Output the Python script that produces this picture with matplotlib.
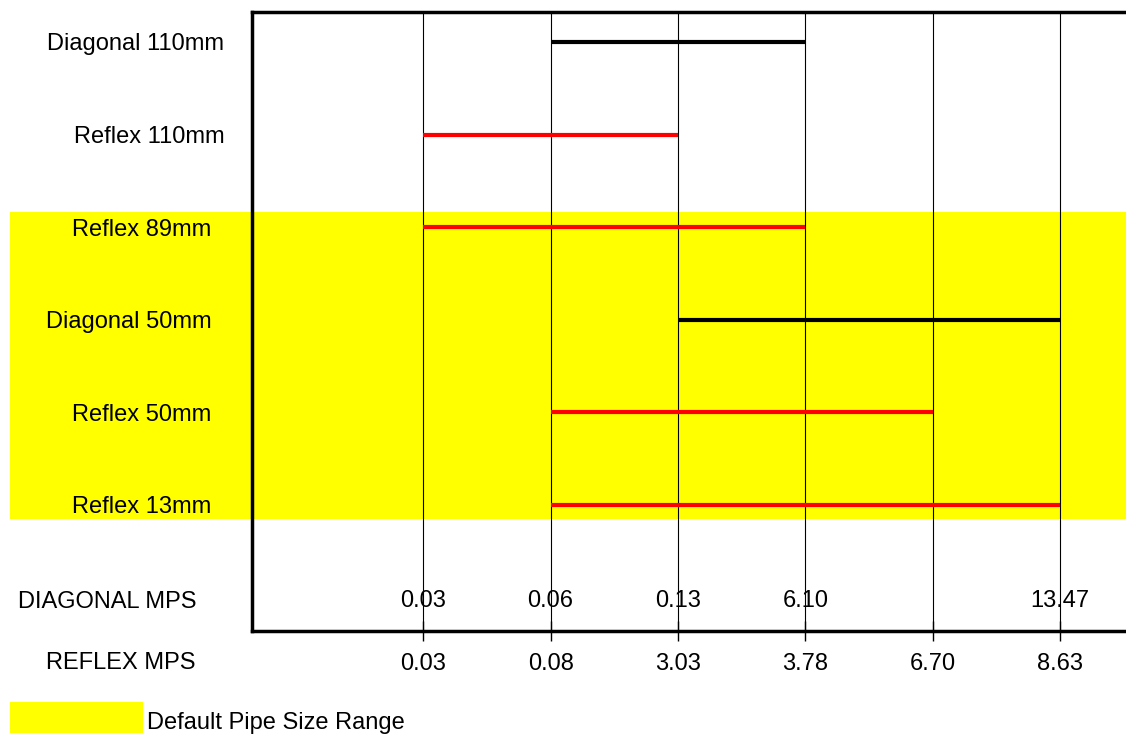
import matplotlib
matplotlib.use("Agg")
import matplotlib.pyplot as plt
from matplotlib.patches import Rectangle
from matplotlib import transforms

plt.rcParams['font.family'] = ['Liberation Sans', 'DejaVu Sans']

# ---------------- data ----------------
reflex_mps = [0.03, 0.08, 3.03, 3.78, 6.70, 8.63]
diagonal_mps = [0.03, 0.06, 0.13, 6.10, None, 13.47]

pipes = ["Diagonal 110mm", "Reflex 110mm", "Reflex 89mm",
         "Diagonal 50mm", "Reflex 50mm", "Reflex 13mm"]
range_min = [0.06, 0.03, 0.03, 0.13, 0.08, 0.08]
range_max = [6.10, 3.03, 3.78, 13.47, 6.70, 8.63]
default_pipes = ["Reflex 89mm", "Diagonal 50mm", "Reflex 50mm", "Reflex 13mm"]

# ---------------- figure ----------------
W, H = 1126, 736
fig = plt.figure(figsize=(W / 100, H / 100), dpi=100)
ax = fig.add_axes([252 / W, 1 - 631 / H, (1150 - 252) / W, (631 - 12) / H])

ticks = list(range(len(reflex_mps)))
ax.set_xlim(-1.344, 5.705)
ax.set_ylim(6.358, -0.322)

# default pipe size band
rows_default = [pipes.index(p) for p in default_pipes]
pad = 0.16
band_tr = transforms.blended_transform_factory(fig.transFigure, ax.transData)
ax.add_patch(Rectangle((10 / W, min(rows_default) - pad), 1.0,
                       max(rows_default) - min(rows_default) + 2 * pad - 0.01,
                       transform=band_tr, facecolor='#ffff00', edgecolor='none',
                       clip_on=False, zorder=0.5))

# vertical gridlines
ax.set_xticks(ticks)
ax.set_xticklabels([f"{v:.2f}" for v in reflex_mps], fontsize=17)
ax.grid(axis='x', color='black', linewidth=0.8)
ax.grid(axis='y', visible=False)
ax.tick_params(axis='x', direction='inout', length=14, width=1, pad=9, colors='black')
ax.set_yticks([])

for s in ['left', 'top', 'bottom']:
    ax.spines[s].set_linewidth(2.5)
ax.spines['right'].set_visible(False)

# ranges
for i, (name, lo, hi) in enumerate(zip(pipes, range_min, range_max)):
    if name.startswith("Diagonal"):
        scale, color = diagonal_mps, 'black'
    else:
        scale, color = reflex_mps, '#ff0000'
    x0, x1 = scale.index(lo), scale.index(hi)
    ax.plot([x0, x1], [i, i], color=color, linewidth=3, solid_capstyle='butt', zorder=3)
    off = -29 if name in default_pipes else -20
    ax.annotate(name, xy=(0, i), xycoords=('axes fraction', 'data'),
                xytext=(off, -6), textcoords='offset points',
                ha='right', va='baseline', fontsize=17, annotation_clip=False)

# diagonal MPS values above bottom axis
lab_tr = transforms.blended_transform_factory(ax.transData, ax.transAxes)
for t, v in zip(ticks, diagonal_mps):
    if v is None:
        continue
    ax.annotate(f"{v:.2f}", xy=(t, 0), xycoords=lab_tr, xytext=(0, 17),
                textcoords='offset points', ha='center', va='baseline', fontsize=17)

fig.text(196 / W, 1 - 608 / H, "DIAGONAL MPS", ha='right', va='baseline', fontsize=17)
fig.text(196 / W, 1 - 669 / H, "REFLEX MPS", ha='right', va='baseline', fontsize=17)

# legend
fig.patches.append(Rectangle((10 / W, 1 - 733 / H), 133 / W, 31 / H,
                             transform=fig.transFigure, facecolor='#ffff00',
                             edgecolor='none'))
fig.text(147 / W, 1 - 729 / H, "Default Pipe Size Range", ha='left', va='baseline',
         fontsize=17)

fig.savefig("out.png", dpi=100)
